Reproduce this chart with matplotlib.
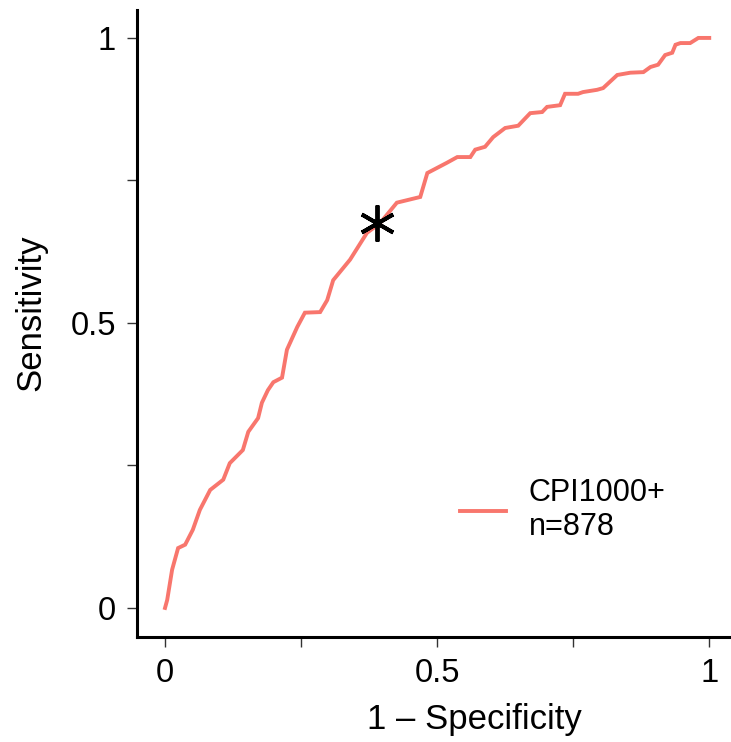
import matplotlib
matplotlib.use("Agg")
import matplotlib.pyplot as plt

plt.rcParams['font.family'] = ['Liberation Sans', 'DejaVu Sans']

# ROC curve (1 - specificity, sensitivity)
fpr = [0.0, 0.004, 0.013, 0.024, 0.037, 0.051, 0.064, 0.083, 0.107, 0.119,
       0.143, 0.153, 0.171, 0.178, 0.189, 0.199, 0.215, 0.224, 0.243, 0.257,
       0.285, 0.298, 0.309, 0.340, 0.371, 0.395, 0.426, 0.469, 0.482, 0.518,
       0.537, 0.561, 0.570, 0.588, 0.603, 0.625, 0.649, 0.671, 0.693, 0.702,
       0.726, 0.735, 0.759, 0.768, 0.794, 0.805, 0.831, 0.855, 0.879, 0.892,
       0.906, 0.919, 0.932, 0.938, 0.947, 0.965, 0.980, 1.0]
tpr = [0.0, 0.014, 0.067, 0.105, 0.111, 0.137, 0.172, 0.207, 0.225, 0.254,
       0.277, 0.309, 0.333, 0.360, 0.382, 0.396, 0.404, 0.453, 0.493, 0.518,
       0.519, 0.540, 0.575, 0.611, 0.658, 0.675, 0.711, 0.721, 0.763, 0.781,
       0.791, 0.791, 0.804, 0.809, 0.826, 0.842, 0.846, 0.868, 0.870, 0.879,
       0.882, 0.902, 0.902, 0.905, 0.909, 0.912, 0.935, 0.939, 0.940, 0.949,
       0.953, 0.970, 0.974, 0.988, 0.991, 0.991, 1.0, 1.0]

# optimal cut-off point
cut_x = 0.39
cut_y = 0.675

legend_label = "CPI1000+\nn=878"
line_color = "#F8766D"

fig = plt.figure(figsize=(7.31, 7.42), dpi=100)
ax = fig.add_axes([137 / 731, 105 / 742, 1 - 137 / 731, 627 / 742])

ax.plot(fpr, tpr, color=line_color, lw=2.8, label=legend_label,
        solid_joinstyle='miter')
ax.plot([cut_x], [cut_y], linestyle='none', marker=(6, 2, 0), ms=26,
        mec='black', mew=2.8, color='black')

ax.set_xlim(-0.0515, 1.04)
ax.set_ylim(-0.051, 1.049)

ax.set_xticks([0, 0.25, 0.5, 0.75, 1])
ax.set_xticklabels(["0", "", "0.5", "", "1"])
ax.set_yticks([0, 0.25, 0.5, 0.75, 1])
ax.set_yticklabels(["0", "", "0.5", "", "1"])
ax.tick_params(axis='both', length=7, width=1, color='#333333',
               labelsize=23.5, pad=8)

for side in ['top', 'right']:
    ax.spines[side].set_visible(False)
for side in ['left', 'bottom']:
    ax.spines[side].set_linewidth(2.2)

ax.set_xlabel("1 – Specificity", fontsize=25)
ax.set_ylabel("Sensitivity", fontsize=25)
ax.xaxis.set_label_coords(474 / 731, 1 - 703 / 742, transform=fig.transFigure)
ax.yaxis.set_label_coords(47 / 731, 1 - 313 / 742, transform=fig.transFigure)

ax.legend(loc='center left', bbox_to_anchor=(460 / 731, 1 - 510 / 742),
          bbox_transform=fig.transFigure, frameon=False, fontsize=22,
          handlelength=1.5, handletextpad=0.75, borderpad=0,
          borderaxespad=0)

fig.savefig("out.png", dpi=100)
